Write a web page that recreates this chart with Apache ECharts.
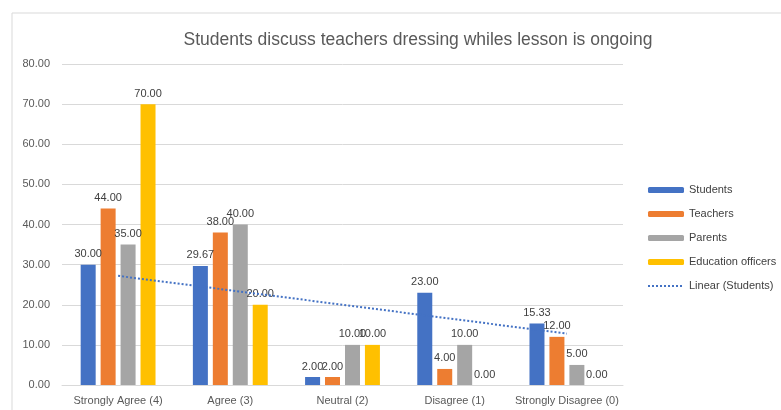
<!DOCTYPE html>
<html>
<head>
<meta charset="utf-8">
<script src="https://cdn.jsdelivr.net/npm/echarts@6/dist/echarts.min.js"></script>
<style>html,body{margin:0;padding:0;background:#fff;}#c{width:781px;height:410px;}</style>
</head>
<body>
<div id="c"></div>
<script>
const categories = ['Strongly Agree (4)', 'Agree (3)', 'Neutral (2)', 'Disagree (1)', 'Strongly Disagree (0)'];
const students = [30, 29.67, 2, 23, 15.33];
const teachers = [44, 38, 2, 4, 12];
const parents = [35, 40, 10, 10, 5];
const educationOfficers = [70, 20, 10, 0, 0];
const yTicks = { min: 0, max: 80, interval: 10 };

// Linear trendline (least squares) of the Students series
function linearFit(arr) {
  const n = arr.length;
  const xs = arr.map((_, i) => i + 1);
  const mx = xs.reduce((a, b) => a + b, 0) / n;
  const my = arr.reduce((a, b) => a + b, 0) / n;
  let num = 0, den = 0;
  for (let i = 0; i < n; i++) { num += (xs[i] - mx) * (arr[i] - my); den += (xs[i] - mx) ** 2; }
  const b = num / den, a = my - b * mx;
  return xs.map(x => a + b * x);
}
const studentsTrend = linearFit(students);

const FONT = 'Liberation Sans, Arial, sans-serif';
const chart = echarts.init(document.getElementById('c'), null, { renderer: 'canvas' });
const labelCfg = {
  show: true, position: 'top', distance: 5,
  color: '#404040', fontSize: 11, fontFamily: FONT,
  formatter: p => Number(p.value).toFixed(2)
};
function bar(name, data, color) {
  return {
    name, type: 'bar', data, barWidth: 15, barGap: '33%', barCategoryGap: '31%',
    itemStyle: { color }, label: labelCfg
  };
}
chart.setOption({
  animation: false,
  backgroundColor: '#fff',
  title: {
    text: 'Students discuss teachers dressing whiles lesson is ongoing',
    left: 413, top: 26, textAlign: 'center',
    textStyle: { color: '#595959', fontSize: 17.5, fontWeight: 'normal', fontFamily: FONT }
  },
  graphic: [{
    type: 'rect', silent: true, z: -1,
    shape: { x: 12, y: 13, width: 800, height: 420 },
    style: { fill: 'none', stroke: '#d9d9d9', lineWidth: 1 }
  }],
  grid: { left: 62, right: 158, top: 64, bottom: 25, containLabel: false },
  legend: {
    orient: 'vertical', left: 642, top: 178,
    itemWidth: 36, itemHeight: 6, itemGap: 10,
    textStyle: { color: '#404040', fontSize: 11, fontFamily: FONT, lineHeight: 14 },
    data: ['Students', 'Teachers', 'Parents', 'Education officers',
      { name: 'Linear (Students)', itemStyle: { opacity: 0 } }]
  },
  xAxis: {
    type: 'category', data: categories,
    axisLine: { lineStyle: { color: '#d9d9d9' } },
    axisTick: { show: false },
    axisLabel: { color: '#595959', fontSize: 11, fontFamily: FONT, margin: 10, interval: 0 }
  },
  yAxis: {
    type: 'value', min: yTicks.min, max: yTicks.max, interval: yTicks.interval,
    axisLine: { show: false }, axisTick: { show: false },
    splitLine: { lineStyle: { color: '#d9d9d9' } },
    axisLabel: { color: '#595959', fontSize: 11, fontFamily: FONT, margin: 12, formatter: v => v.toFixed(2) }
  },
  series: [
    bar('Students', students, '#4472C4'),
    bar('Teachers', teachers, '#ED7D31'),
    bar('Parents', parents, '#A5A5A5'),
    bar('Education officers', educationOfficers, '#FFC000'),
    {
      name: 'Linear (Students)', type: 'line', data: studentsTrend,
      symbol: 'none', z: 5,
      lineStyle: { color: '#4472C4', width: 2, type: [2, 2] },
      itemStyle: { color: '#4472C4' }
    }
  ]
});
</script>
</body>
</html>
